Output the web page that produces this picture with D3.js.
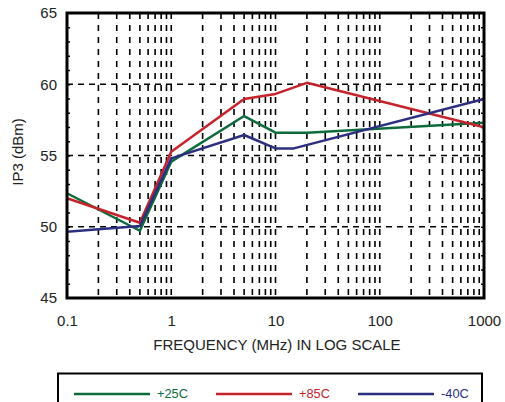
<!DOCTYPE html>
<html>
<head>
<meta charset="utf-8">
<script src="https://cdn.jsdelivr.net/npm/d3@7"></script>
<style>
body { margin: 0; background: #fff; }
text { font-family: "Liberation Sans", Arial, sans-serif; }
</style>
</head>
<body>
<script>
// values
var freq25 = [0.1, 0.5, 1, 5, 10, 20, 1000];
var ip3_25 = [52.35, 49.72, 54.57, 57.77, 56.6, 56.6, 57.3];

var freq85 = [0.1, 0.5, 1, 5, 10, 20, 1000];
var ip3_85 = [52.0, 50.28, 55.27, 58.96, 59.32, 60.1, 56.98];

var freq40 = [0.1, 0.5, 1, 5, 10, 15, 1000];
var ip3_40 = [49.65, 50.05, 54.8, 56.44, 55.5, 55.5, 58.96];

var xTicks = [0.1, 1, 10, 100, 1000];
var yTicks = [45, 50, 55, 60, 65];

var series = [
	{ name: "+25C", color: "#0d6b3b", x: freq25, y: ip3_25 },
	{ name: "+85C", color: "#c5232c", x: freq85, y: ip3_85 },
	{ name: "-40C", color: "#2c2f7f", x: freq40, y: ip3_40 }
];

var margin = { top: 13, right: 21, bottom: 104, left: 67 };
var W = 505, H = 402;
var width = W - margin.left - margin.right,
	height = H - margin.top - margin.bottom;

var svg = d3.select("body").append("svg")
	.attr("width", W)
	.attr("height", H);

var g = svg.append("g")
	.attr("transform", "translate(" + margin.left + "," + margin.top + ")");

var x = d3.scaleLog().domain([0.1, 1000]).range([0, width]);
var y = d3.scaleLinear().domain([45, 65]).range([height, 0]);

// vertical grid: 2..9 of each decade plus inner decades
var vgrid = x.ticks().filter(function(d) { return d > 0.1 && d < 1000; });
g.selectAll(".vgrid")
	.data(vgrid)
	.enter().append("line")
	.attr("class", "vgrid")
	.attr("x1", function(d) { return x(d); })
	.attr("x2", function(d) { return x(d); })
	.attr("y1", 0)
	.attr("y2", height)
	.attr("stroke", "#000")
	.attr("stroke-width", 1.6)
	.style("stroke-dasharray", "6,6");

// horizontal grid
g.selectAll(".hgrid")
	.data(yTicks.filter(function(d) { return d > 45 && d < 65; }))
	.enter().append("line")
	.attr("class", "hgrid")
	.attr("x1", 0)
	.attr("x2", width)
	.attr("y1", function(d) { return y(d); })
	.attr("y2", function(d) { return y(d); })
	.attr("stroke", "#000")
	.attr("stroke-width", 1.6)
	.style("stroke-dasharray", "6,5");

// minor y ticks inside left and right border
var minorY = d3.range(46, 65);
g.append("g")
	.call(d3.axisRight(y).tickValues(minorY).tickSize(3).tickFormat(""))
	.call(function(a) { a.select(".domain").remove(); a.selectAll("line").attr("stroke-width", 1.5); });
g.append("g")
	.attr("transform", "translate(" + width + ",0)")
	.call(d3.axisLeft(y).tickValues(minorY).tickSize(3).tickFormat(""))
	.call(function(a) { a.select(".domain").remove(); a.selectAll("line").attr("stroke-width", 1.5); });

// data lines
var line = d3.line()
	.x(function(d) { return x(d[0]); })
	.y(function(d) { return y(d[1]); });

series.forEach(function(s) {
	g.append("path")
		.datum(d3.zip(s.x, s.y))
		.attr("fill", "none")
		.attr("stroke", s.color)
		.attr("stroke-width", 2.5)
		.attr("stroke-linejoin", "round")
		.attr("d", line);
});

// frame
g.append("rect")
	.attr("width", width)
	.attr("height", height)
	.attr("fill", "none")
	.attr("stroke", "#000")
	.attr("stroke-width", 3);

// tick labels
var xAxis = d3.axisBottom(x)
	.tickValues(xTicks)
	.tickSize(0)
	.tickPadding(17)
	.tickFormat(function(d) { return d3.format("~g")(d); });
g.append("g")
	.attr("transform", "translate(0," + height + ")")
	.call(xAxis)
	.call(function(a) {
		a.select(".domain").remove();
		a.selectAll("text").attr("fill", "#222").style("font-size", "15px").style("font-family", "'Liberation Sans', Arial, sans-serif");
	});

var yAxis = d3.axisLeft(y)
	.tickValues(yTicks)
	.tickSize(0)
	.tickPadding(10);
g.append("g")
	.call(yAxis)
	.call(function(a) {
		a.select(".domain").remove();
		a.selectAll("text").attr("fill", "#222").style("font-size", "15px").style("font-family", "'Liberation Sans', Arial, sans-serif");
	});

// axis titles
svg.append("text")
	.attr("x", 277)
	.attr("y", 350)
	.attr("text-anchor", "middle")
	.attr("fill", "#222")
	.style("font-size", "15px")
	.text("FREQUENCY (MHz) IN LOG SCALE");

svg.append("text")
	.attr("transform", "translate(23,152) rotate(-90)")
	.attr("text-anchor", "middle")
	.attr("fill", "#222")
	.style("font-size", "15px")
	.text("IP3 (dBm)");

// legend
var legend = svg.append("g");
legend.append("rect")
	.attr("x", 58)
	.attr("y", 373.5)
	.attr("width", 424)
	.attr("height", 40)
	.attr("fill", "none")
	.attr("stroke", "#000")
	.attr("stroke-width", 2);

var legendX = d3.scalePoint()
	.domain(series.map(function(s) { return s.name; }))
	.range([74, 358]);

var item = legend.selectAll(".item")
	.data(series)
	.enter().append("g")
	.attr("class", "item")
	.attr("transform", function(d) { return "translate(" + legendX(d.name) + ",394)"; });

item.append("line")
	.attr("x1", 0)
	.attr("x2", 76)
	.attr("stroke", function(d) { return d.color; })
	.attr("stroke-width", 2.5);

item.append("text")
	.attr("x", 83)
	.attr("dy", "0.35em")
	.attr("fill", function(d) { return d.color; })
	.style("font-size", "12.8px")
	.text(function(d) { return d.name; });
</script>
</body>
</html>
